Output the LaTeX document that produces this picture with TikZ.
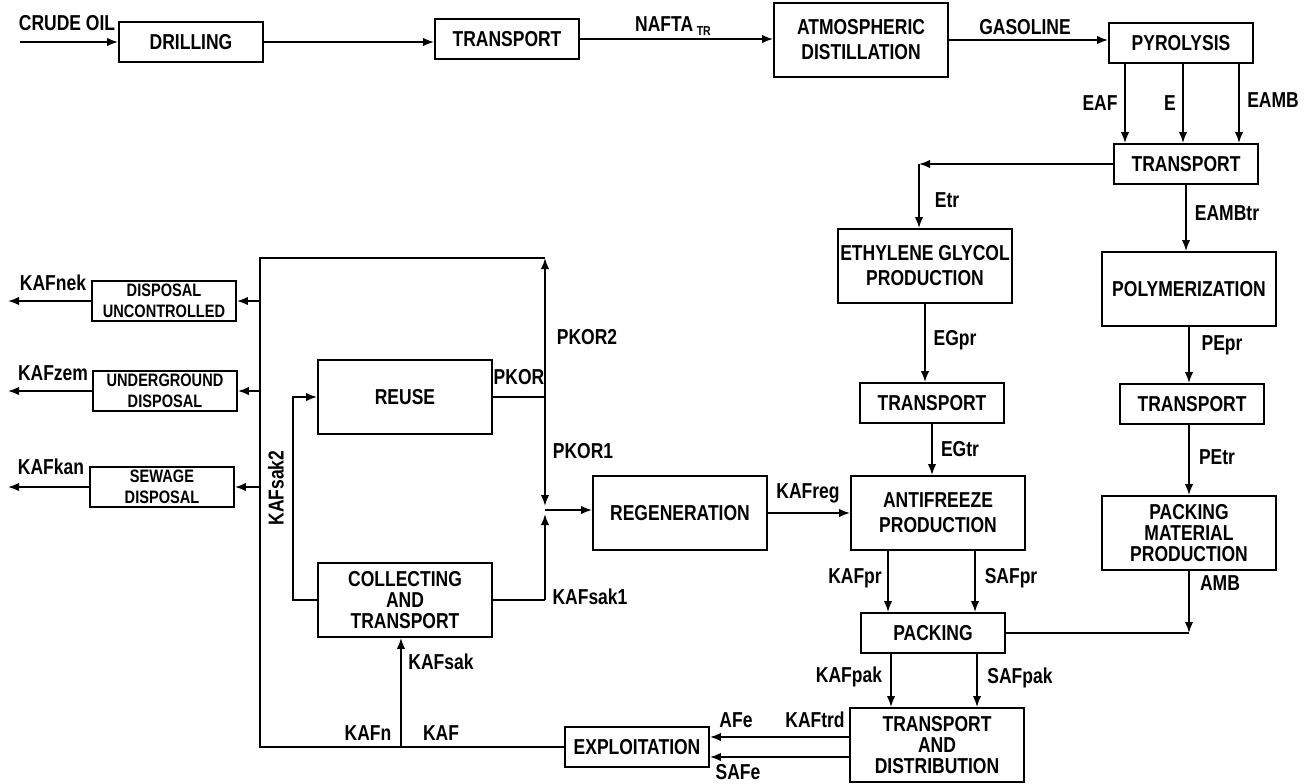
\documentclass[tikz,border=0pt]{standalone}
\usepackage{fontspec}
\newfontfamily\labfont{Liberation Sans}[FakeStretch=0.81]
\usetikzlibrary{arrows.meta}

\begin{document}
\begin{tikzpicture}[x=0.5pt,y=-0.5pt,line width=0.9pt,
	>={Latex[length=5.5pt,width=4.2pt]},
	unitbox/.style={draw,align=center,inner sep=0pt,minimum width=72pt,minimum height=20pt,
		font=\labfont\bfseries\fontsize{10.8}{12.5}\selectfont},
	bigbox/.style={unitbox,minimum width=87pt,minimum height=37pt},
	tight/.style={font=\labfont\bfseries\fontsize{10.8}{10.5}\selectfont},
	dispbox/.style={unitbox,font=\labfont\bfseries\fontsize{9}{10.5}\selectfont},
	lab/.style={inner sep=0pt,font=\labfont\bfseries\fontsize{10.8}{12.5}\selectfont}]
	\useasboundingbox (0,0) rectangle (1312,783);
	% main chain
	\node[unitbox] (drill) at (191,42) {DRILLING};
	\node[unitbox] (tr1) at (507,39) {TRANSPORT};
	\node[bigbox] (atm) at (861,40) {ATMOSPHERIC\\DISTILLATION};
	\node[unitbox] (pyro) at (1181,43) {PYROLYSIS};
	\node[unitbox] (tr2) at (1186,164) {TRANSPORT};
	\node[bigbox] (eg) at (925,266) {ETHYLENE GLYCOL\\PRODUCTION};
	\node[bigbox] (poly) at (1189,289) {POLYMERIZATION};
	\node[unitbox] (tr3) at (932,403) {TRANSPORT};
	\node[unitbox] (tr4) at (1192,404) {TRANSPORT};
	\node[bigbox] (anti) at (938,513) {ANTIFREEZE\\PRODUCTION};
	\node[bigbox,tight] (pmp) at (1189,533) {PACKING\\MATERIAL\\PRODUCTION};
	\node[unitbox] (pack) at (933,633) {PACKING};
	\node[bigbox,tight] (td) at (937,745) {TRANSPORT\\AND\\DISTRIBUTION};
	\node[unitbox] (expl) at (637,747) {EXPLOITATION};
	% waste side
	\node[bigbox] (regen) at (680,513) {REGENERATION};
	\node[bigbox] (reuse) at (405,397) {REUSE};
	\node[bigbox,tight] (coll) at (405,600) {COLLECTING\\AND\\TRANSPORT};
	\node[dispbox] (dunc) at (164,301) {DISPOSAL\\UNCONTROLLED};
	\node[dispbox] (dund) at (165,391) {UNDERGROUND\\DISPOSAL};
	\node[dispbox] (dsew) at (162,487) {SEWAGE\\DISPOSAL};
	%
	\coordinate (crude) at (20,42);
	\coordinate (etrc) at (919,164);
	\coordinate (pk) at (545,397);
	\coordinate (pktop) at (545,258);
	\coordinate (jn) at (545,510);
	\coordinate (ltop) at (260,258);
	\coordinate (lbot) at (260,747);
	\coordinate (kafj) at (401,747);
	\coordinate (rc) at (293,500);
	\coordinate (outx) at (8,500);
	\coordinate (amb) at (pmp.south |- pack.east);
	\coordinate (sak1) at (coll.east -| pk);
	%
	\draw[->] (crude) -- (drill.west);
	\draw[->] (drill.east) -- (drill.east -| tr1.west);
	\draw[->] (tr1.east) -- (tr1.east -| atm.west);
	\draw[->] (atm.east) -- (atm.east -| pyro.west);
	\foreach \dx in {-28,1,29}
		\draw[->] ([xshift=\dx pt]pyro.south) -- ([xshift=\dx pt]pyro.south |- tr2.north);
	\draw[->] (tr2.west) -- (etrc);
	\draw[->] (etrc) -- (etrc |- eg.north);
	\draw[->] (tr2.south) -- (tr2.south |- poly.north);
	\draw[->] (poly.south) -- (poly.south |- tr4.north);
	\draw[->] (pmp.north |- tr4.south) -- (pmp.north);
	\draw[->] (pmp.south) -- (amb);
	\draw (amb) -- (pack.east);
	\draw[->] (eg.south) -- (eg.south |- tr3.north);
	\draw[->] (tr3.south) -- (tr3.south |- anti.north);
	\draw[->] ([xshift=-25pt]anti.south) -- ([xshift=-25pt]anti.south |- pack.north);
	\draw[->] ([xshift=18.5pt]anti.south) -- ([xshift=18.5pt]anti.south |- pack.north);
	\draw[->] ([xshift=-21pt]pack.south) -- ([xshift=-21pt]pack.south |- td.north);
	\draw[->] ([xshift=22pt]pack.south) -- ([xshift=22pt]pack.south |- td.north);
	\draw[->] ([yshift=4pt]td.west) -- ([yshift=4pt]td.west -| expl.east);
	\draw[->] ([yshift=-6pt]td.west) -- ([yshift=-6pt]td.west -| expl.east);
	%
	\draw (expl.west) -- (lbot) -- (ltop) -- (pktop);
	\draw[->] (kafj) -- (kafj |- coll.south);
	\draw[->] (coll.west) -- (coll.west -| rc) -- (reuse.west -| rc) -- (reuse.west);
	\draw (reuse.east) -- (pk);
	\draw[->] (pk) -- (pktop);
	\draw[->] (pk) -- ([yshift=2pt]jn);
	\draw (coll.east) -- (sak1);
	\draw[->] (sak1) -- ([yshift=-2pt]jn);
	\draw[->] (jn) -- (jn -| regen.west);
	\draw[->] (regen.east) -- (regen.east -| anti.west);
	\foreach \d in {dunc,dund,dsew} {
		\draw[->] (\d.east -| ltop) -- (\d.east);
		\draw[->] (\d.west) -- (\d.west -| outx);
	}
	% labels
	\node[lab] (lcrude) at (67,23) {CRUDE OIL};
	\node[lab] (lnafta) at (673,26) {NAFTA\,\raisebox{-2pt}{\fontsize{6.5}{7}\selectfont TR}};
	\node[lab] (lgas) at (1025,27) {GASOLINE};
	\node[lab] (leaf) at (1100,103) {EAF};
	\node[lab] (le) at (1170,103) {E};
	\node[lab] (leamb) at (1273,100) {EAMB};
	\node[lab] (letr) at (947,200) {Etr};
	\node[lab] (leambtr) at (1227,213) {EAMBtr};
	\node[lab] (legpr) at (955,340) {EGpr};
	\node[lab] (lpepr) at (1222,345) {PEpr};
	\node[lab] (legtr) at (960,449) {EGtr};
	\node[lab] (lpetr) at (1217,457) {PEtr};
	\node[lab] (lkafreg) at (808,493) {KAFreg};
	\node[lab] (lkafpr) at (855,578) {KAFpr};
	\node[lab] (lsafpr) at (1011,578) {SAFpr};
	\node[lab] (lamb) at (1220,583) {AMB};
	\node[lab] (lkafpak) at (849,677) {KAFpak};
	\node[lab] (lsafpak) at (1020,678) {SAFpak};
	\node[lab] (lafe) at (736,720) {AFe};
	\node[lab] (lkaftrd) at (815,720) {KAFtrd};
	\node[lab] (lsafe) at (738,772) {SAFe};
	\node[lab] (lnek) at (53,283) {KAFnek};
	\node[lab] (lzem) at (53,373) {KAFzem};
	\node[lab] (lkan) at (51,467) {KAFkan};
	\node[lab] (lpkor2) at (587,337) {PKOR2};
	\node[lab] (lpkor) at (519,377) {PKOR};
	\node[lab] (lpkor1) at (583,451) {PKOR1};
	\node[lab] (lsak1) at (590,597) {KAFsak1};
	\node[lab,rotate=90] (lsak2) at (276,488) {KAFsak2};
	\node[lab] (lsak) at (441,662) {KAFsak};
	\node[lab] (lkafn) at (368,733) {KAFn};
	\node[lab] (lkaf) at (441,733) {KAF};
\end{tikzpicture}
\end{document}
